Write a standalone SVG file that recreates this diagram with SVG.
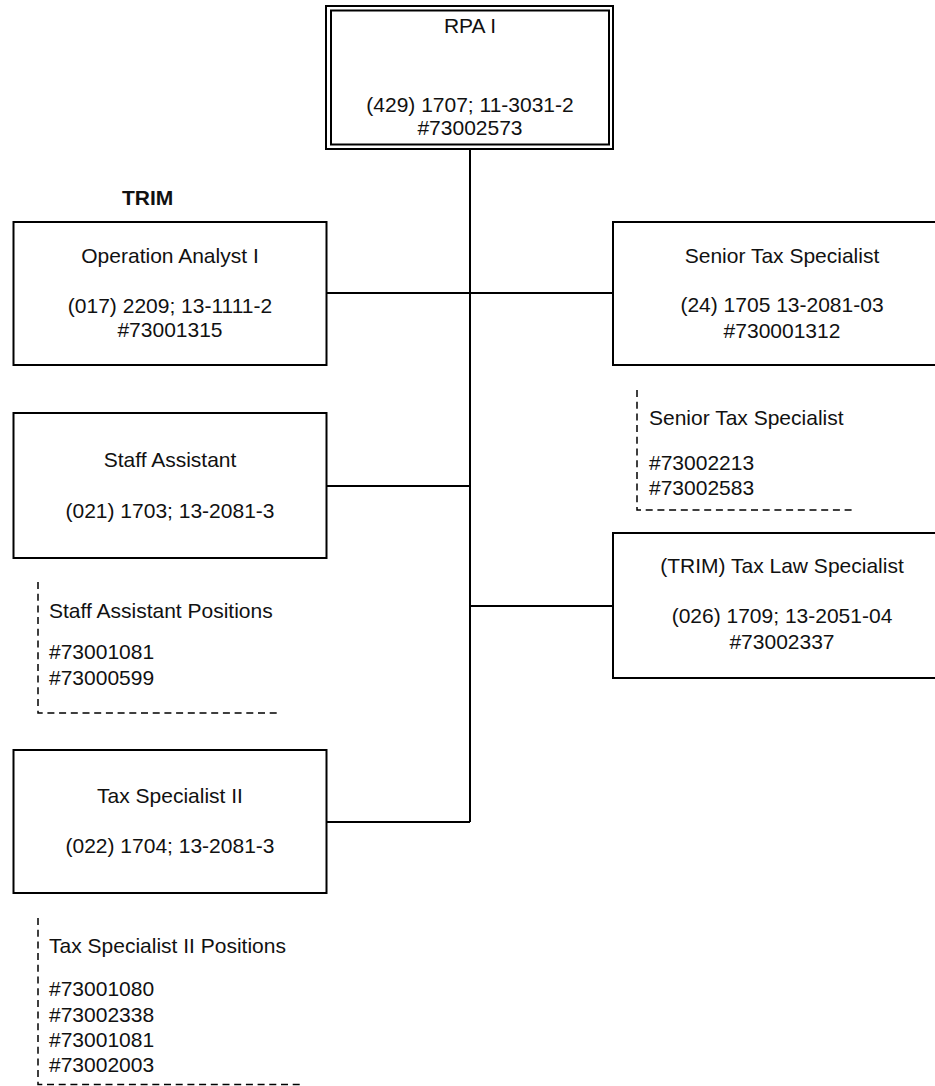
<svg xmlns="http://www.w3.org/2000/svg" width="935" height="1086" viewBox="0 0 935 1086">
  <style>
    .box { fill: #fff; stroke: #000; stroke-width: 2; }
    .frame { fill: none; stroke: #000; stroke-width: 2; }
    .wire { fill: none; stroke: #000; stroke-width: 2; }
    .note { fill: none; stroke: #000; stroke-width: 1.5; stroke-dasharray: 7 4.7; }
    text { font-family: "Liberation Sans", Arial, sans-serif; font-size: 21px; fill: #111; }
    .c { text-anchor: middle; }
    .b { font-weight: bold; }
  </style>
  <rect width="935" height="1086" fill="#fff"/>

  <!-- reporting lines -->
  <g id="connectors">
    <path class="wire" d="M470 150 V822"/>
    <path class="wire" d="M326 293 H613"/>
    <path class="wire" d="M326 486 H470"/>
    <path class="wire" d="M470 606 H613"/>
    <path class="wire" d="M326 822 H470"/>
  </g>

  <g id="rpa">
    <rect class="frame" x="326" y="6" width="287" height="143"/>
    <rect class="frame" x="331" y="10.5" width="278" height="134"/>
    <text class="c" x="470" y="33">RPA I</text>
    <text class="c" x="470" y="112">(429) 1707; 11-3031-2</text>
    <text class="c" x="470" y="135">#73002573</text>
  </g>

  <g id="trim-label">
    <text class="b" x="122" y="205">TRIM</text>
  </g>

  <g id="operation-analyst">
    <rect class="box" x="13.5" y="222" width="313" height="143"/>
    <text class="c" x="170" y="263">Operation Analyst I</text>
    <text class="c" x="170" y="313">(017) 2209; 13-1111-2</text>
    <text class="c" x="170" y="337">#73001315</text>
  </g>

  <g id="senior-tax">
    <rect class="box" x="613" y="222" width="338" height="143"/>
    <text class="c" x="782" y="263">Senior Tax Specialist</text>
    <text class="c" x="782" y="312">(24) 1705 13-2081-03</text>
    <text class="c" x="782" y="338">#730001312</text>
  </g>

  <g id="senior-tax-positions">
    <path class="note" d="M637 390 V510 H855"/>
    <text x="649" y="425">Senior Tax Specialist</text>
    <text x="649" y="470">#73002213</text>
    <text x="649" y="495">#73002583</text>
  </g>

  <g id="staff-assistant">
    <rect class="box" x="13.5" y="413" width="313" height="145"/>
    <text class="c" x="170" y="467">Staff Assistant</text>
    <text class="c" x="170" y="518">(021) 1703; 13-2081-3</text>
  </g>

  <g id="staff-assistant-positions">
    <path class="note" d="M38 582 V713 H278"/>
    <text x="49" y="618">Staff Assistant Positions</text>
    <text x="49" y="659">#73001081</text>
    <text x="49" y="685">#73000599</text>
  </g>

  <g id="tax-law">
    <rect class="box" x="613" y="533" width="338" height="145"/>
    <text class="c" x="782" y="573">(TRIM) Tax Law Specialist</text>
    <text class="c" x="782" y="623">(026) 1709; 13-2051-04</text>
    <text class="c" x="782" y="649">#73002337</text>
  </g>

  <g id="tax-specialist">
    <rect class="box" x="13.5" y="750" width="313" height="143"/>
    <text class="c" x="170" y="803">Tax Specialist II</text>
    <text class="c" x="170" y="853">(022) 1704; 13-2081-3</text>
  </g>

  <g id="tax-specialist-positions">
    <path class="note" d="M38 918 V1084.5 H303"/>
    <text x="49" y="953">Tax Specialist II Positions</text>
    <text x="49" y="996">#73001080</text>
    <text x="49" y="1022">#73002338</text>
    <text x="49" y="1047">#73001081</text>
    <text x="49" y="1072">#73002003</text>
  </g>
</svg>
